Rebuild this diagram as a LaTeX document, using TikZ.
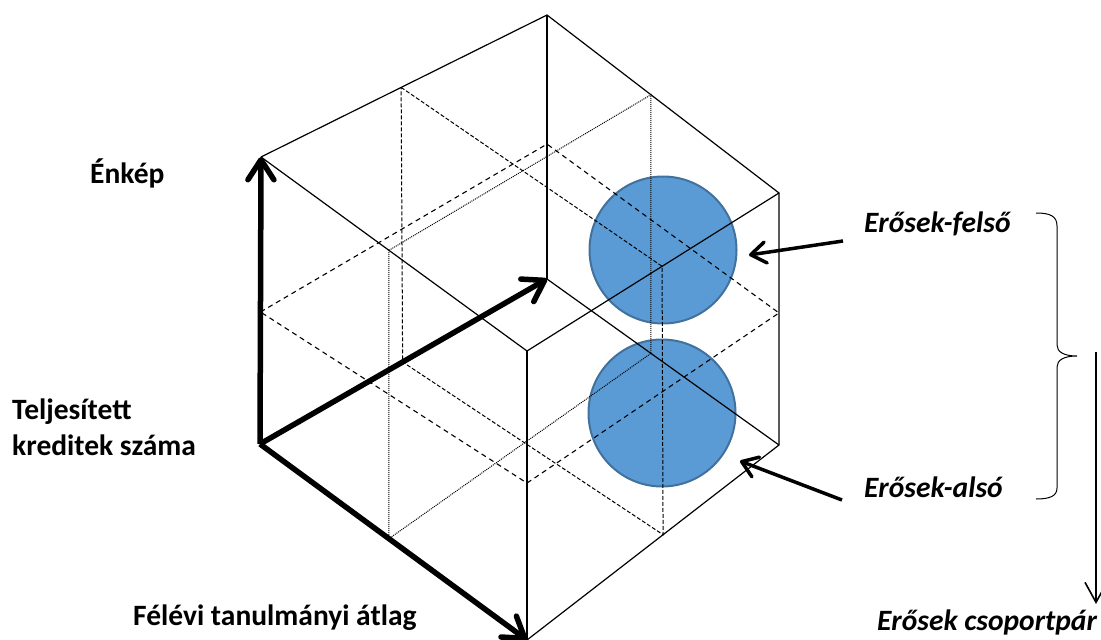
\documentclass[tikz,border=0pt]{standalone}
\usepackage{fontspec}
\setmainfont{Carlito}
\usetikzlibrary{arrows.meta,calc}
\definecolor{cfill}{HTML}{5B9BD5}
\definecolor{cline}{HTML}{41719C}
\begin{document}
\begin{tikzpicture}[x=1pt,y=-1pt,
  edge/.style={line width=1.2pt, black},
  dotln/.style={line width=1pt, dash pattern=on 1pt off 1pt},
  fdash/.style={line width=1pt, dash pattern=on 4pt off 2pt},
  hdash/.style={line width=1.1pt, dash pattern=on 5pt off 4pt},
  axis/.style={line width=5.5pt, -{Straight Barb[length=20pt,width=26pt,round]}},
  callout/.style={line width=3.5pt, -{Straight Barb[length=15pt,width=21pt,round]}},
  thinarr/.style={line width=1.6pt, -{Straight Barb[length=20pt,width=22pt]}},
  ball/.style={circle, fill=cfill, draw=cline, line width=2pt, minimum size=147pt, inner sep=0pt},
  lab/.style={font=\fontsize{29.5}{34}\selectfont\bfseries, anchor=base west, inner sep=0pt},
  ilab/.style={font=\fontsize{29.5}{34}\selectfont\bfseries\itshape, anchor=base west, inner sep=0pt}]
\useasboundingbox (0,0) rectangle (1101,640);
% balls
\node[ball] (up) at (663,250) {};
\node[ball] (lo) at (662,413) {};
% cube vertices
\coordinate (O) at (260,444);
\coordinate (B) at (527,640);
\coordinate (C) at (547,279);
\coordinate (Rb) at (779,445);
\coordinate (L) at (261,157);
\coordinate (F) at (527,351);
\coordinate (T) at (547,15);
\coordinate (R) at (779,193);
% grid points
\coordinate (d1) at ($(L)!0.481!(F)$);
\coordinate (d2) at ($(T)!0.448!(R)$);
\coordinate (d3) at ($(C)!0.448!(Rb)$);
\coordinate (d4) at ($(O)!0.483!(B)$);
\coordinate (e1) at ($(L)!0.49!(T)$);
\coordinate (e2) at ($(F)!0.536!(R)$);
\coordinate (e3) at ($(B)!0.54!(Rb)$);
\coordinate (e4) at ($(O)!0.497!(C)$);
\coordinate (h1) at ($(O)!0.46!(L)$);
\coordinate (h2) at ($(C)!0.511!(T)$);
\coordinate (h3) at ($(Rb)!0.524!(R)$);
\coordinate (h4) at ($(B)!0.543!(F)$);
% grid planes
\draw[dotln] (d1) -- (d2) -- (d3) -- (d4) -- cycle;
\draw[fdash] (e1) -- (e2) -- (e3) -- (e4) -- cycle;
\draw[hdash] (h1) -- (h2) -- (h3) -- (h4) -- cycle;
% cube edges
\draw[edge] (L) -- (T) -- (R) -- (Rb) -- (B);
\draw[edge] (L) -- (F) -- (R);
\draw[edge] (F) -- (B);
\draw[edge] (C) -- (T);
\draw[edge] (C) -- (Rb);
% axes
\draw[axis] (O) -- (L);
\draw[axis] (O) -- (C);
\draw[axis] (O) -- (B);
% labels
\node[lab] (enkep) at (90,183) {Énkép};
\node[lab] (telj) at (12,419) {Teljesített};
\node[lab] (kred) at (12,455) {kreditek száma};
\node[lab] (felevi) at (133,625) {Félévi tanulmányi átlag};
\node[ilab] (felso) at (864,232) {Erősek-felső};
\node[ilab] (also) at (864,497) {Erősek-alsó};
\node[ilab] (csop) at (877,630) {Erősek csoportpár};
% callout arrows
\coordinate (uf) at (843,241);
\coordinate (ut) at (749,255);
\draw[callout] (uf) -- (ut);
\coordinate (lf) at (842,500);
\coordinate (lt) at (740,461);
\draw[callout] (lf) -- (lt);
% brace
\draw[line width=1pt] (1036,213) .. controls (1050,213) and (1057,216) .. (1057,226) -- (1057,345) .. controls (1057,352) and (1064,356) .. (1077,356) .. controls (1064,356) and (1057,360) .. (1057,367) -- (1057,488) .. controls (1057,496) and (1050,499) .. (1036,499);
% brace arrow
\coordinate (ba) at (1096,352);
\coordinate (bt) at (1096,604);
\draw[thinarr] (ba) -- (bt);
\end{tikzpicture}
\end{document}
